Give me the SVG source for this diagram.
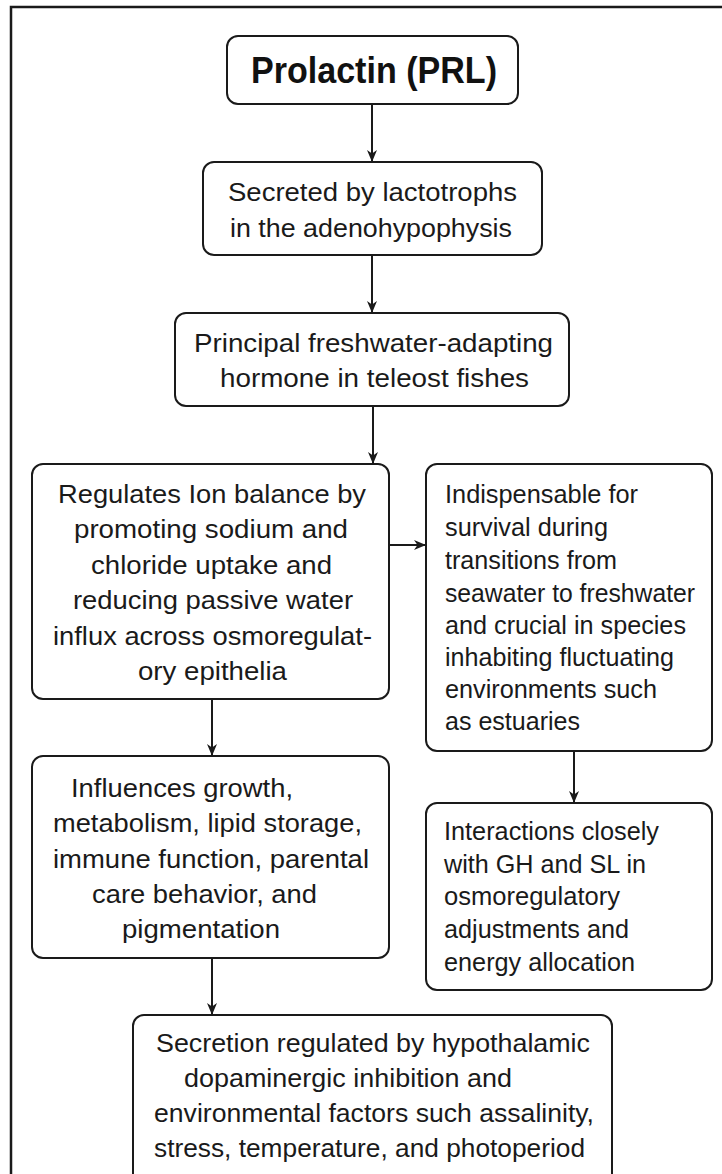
<svg xmlns="http://www.w3.org/2000/svg" width="722" height="1174" viewBox="0 0 722 1174">
  <defs>
    <marker id="arrow" viewBox="0 0 12 10" refX="12" refY="5" markerWidth="12" markerHeight="10" markerUnits="userSpaceOnUse" orient="auto">
      <path d="M0,0 L12,5 L0,10 L3.5,5 Z" fill="#1a1a1a"/>
    </marker>
    <style>
      .box { fill: #ffffff; stroke: #1a1a1a; stroke-width: 2; }
      .edge { fill: none; stroke: #1a1a1a; stroke-width: 2; marker-end: url(#arrow); }
      .t { font-family: "Liberation Sans", Arial, sans-serif; font-size: 26px; fill: #1a1a1a; }
      .title { font-family: "Liberation Sans", Arial, sans-serif; font-size: 37px; font-weight: bold; fill: #111111; }
    </style>
  </defs>

  <rect x="0" y="0" width="722" height="1174" fill="#ffffff"/>
  <!-- outer frame -->
  <path d="M11,1174 L11,7 L722,7" fill="none" stroke="#1a1a1a" stroke-width="2.5"/>

  <g id="connectors">
    <line class="edge" x1="372" y1="104" x2="372" y2="162"/>
    <line class="edge" x1="372" y1="255" x2="372" y2="313"/>
    <line class="edge" x1="373" y1="406" x2="373" y2="464"/>
    <line class="edge" x1="389" y1="545" x2="426" y2="545"/>
    <line class="edge" x1="212" y1="699" x2="212" y2="756"/>
    <line class="edge" x1="574" y1="751" x2="574" y2="803"/>
    <line class="edge" x1="212" y1="958" x2="212" y2="1015"/>
  </g>

  <g id="prolactin">
    <rect class="box" x="227" y="36" width="291" height="68" rx="11"/>
    <text class="title" x="251" y="83" textLength="246" lengthAdjust="spacingAndGlyphs">Prolactin (PRL)</text>
  </g>

  <g id="secreted">
    <rect class="box" x="203" y="162" width="339" height="93" rx="11"/>
    <text class="t" x="228" y="201" textLength="289" lengthAdjust="spacingAndGlyphs">Secreted by lactotrophs</text>
    <text class="t" x="230" y="237" textLength="282" lengthAdjust="spacingAndGlyphs">in the adenohypophysis</text>
  </g>

  <g id="principal">
    <rect class="box" x="175" y="313" width="394" height="93" rx="11"/>
    <text class="t" x="194" y="352" textLength="359" lengthAdjust="spacingAndGlyphs">Principal freshwater-adapting</text>
    <text class="t" x="220" y="387" textLength="309" lengthAdjust="spacingAndGlyphs">hormone in teleost fishes</text>
  </g>

  <g id="ion-balance">
    <rect class="box" x="32" y="464" width="357" height="235" rx="11"/>
    <text class="t" x="58" y="503" textLength="308" lengthAdjust="spacingAndGlyphs">Regulates Ion balance by</text>
    <text class="t" x="74" y="538" textLength="274" lengthAdjust="spacingAndGlyphs">promoting sodium and</text>
    <text class="t" x="91" y="574" textLength="241" lengthAdjust="spacingAndGlyphs">chloride uptake and</text>
    <text class="t" x="73" y="609" textLength="280" lengthAdjust="spacingAndGlyphs">reducing passive water</text>
    <text class="t" x="53" y="645" textLength="319" lengthAdjust="spacingAndGlyphs">influx across osmoregulat-</text>
    <text class="t" x="138" y="680" textLength="149" lengthAdjust="spacingAndGlyphs">ory epithelia</text>
  </g>

  <g id="indispensable">
    <rect class="box" x="426" y="464" width="286" height="287" rx="11"/>
    <text class="t" x="445" y="503" textLength="193" lengthAdjust="spacingAndGlyphs">Indispensable for</text>
    <text class="t" x="445" y="536" textLength="163" lengthAdjust="spacingAndGlyphs">survival during</text>
    <text class="t" x="445" y="569" textLength="172" lengthAdjust="spacingAndGlyphs">transitions from</text>
    <text class="t" x="445" y="602" textLength="250" lengthAdjust="spacingAndGlyphs">seawater to freshwater</text>
    <text class="t" x="445" y="634" textLength="241" lengthAdjust="spacingAndGlyphs">and crucial in species</text>
    <text class="t" x="445" y="666" textLength="229" lengthAdjust="spacingAndGlyphs">inhabiting fluctuating</text>
    <text class="t" x="445" y="698" textLength="212" lengthAdjust="spacingAndGlyphs">environments such</text>
    <text class="t" x="445" y="730" textLength="135" lengthAdjust="spacingAndGlyphs">as estuaries</text>
  </g>

  <g id="influences">
    <rect class="box" x="32" y="756" width="357" height="202" rx="11"/>
    <text class="t" x="71" y="797" textLength="222" lengthAdjust="spacingAndGlyphs">Influences growth,</text>
    <text class="t" x="53" y="832" textLength="309" lengthAdjust="spacingAndGlyphs">metabolism, lipid storage,</text>
    <text class="t" x="53" y="868" textLength="316" lengthAdjust="spacingAndGlyphs">immune function, parental</text>
    <text class="t" x="92" y="903" textLength="225" lengthAdjust="spacingAndGlyphs">care behavior, and</text>
    <text class="t" x="122" y="938" textLength="158" lengthAdjust="spacingAndGlyphs">pigmentation</text>
  </g>

  <g id="interactions">
    <rect class="box" x="426" y="803" width="286" height="187" rx="11"/>
    <text class="t" x="444" y="840" textLength="215" lengthAdjust="spacingAndGlyphs">Interactions closely</text>
    <text class="t" x="444" y="873" textLength="202" lengthAdjust="spacingAndGlyphs">with GH and SL in</text>
    <text class="t" x="444" y="905" textLength="176" lengthAdjust="spacingAndGlyphs">osmoregulatory</text>
    <text class="t" x="444" y="938" textLength="185" lengthAdjust="spacingAndGlyphs">adjustments and</text>
    <text class="t" x="444" y="971" textLength="191" lengthAdjust="spacingAndGlyphs">energy allocation</text>
  </g>

  <g id="secretion-regulation">
    <rect class="box" x="133" y="1015" width="479" height="170" rx="11"/>
    <text class="t" x="156" y="1052" textLength="434" lengthAdjust="spacingAndGlyphs">Secretion regulated by hypothalamic</text>
    <text class="t" x="184" y="1087" textLength="328" lengthAdjust="spacingAndGlyphs">dopaminergic inhibition and</text>
    <text class="t" x="154" y="1122" textLength="440" lengthAdjust="spacingAndGlyphs">environmental factors such assalinity,</text>
    <text class="t" x="154" y="1157" textLength="431" lengthAdjust="spacingAndGlyphs">stress, temperature, and photoperiod</text>
  </g>
</svg>
